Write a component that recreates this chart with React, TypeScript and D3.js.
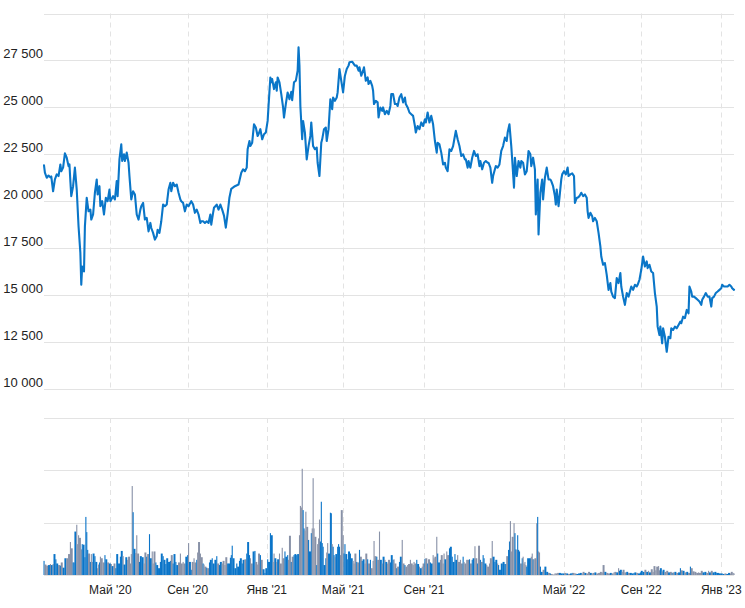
import React from "react";
import * as d3 from "d3";

// trading-session index, closing price
const priceSeries: [number, number][] = [
[0,21900],[1,21510],[3,21240],[5,21360],[7,21260],[8,21310],[10,20520],[12,21150],[14,21420],[16,21330],[18,21950],[19,21590],[21,21780],[23,22540],[25,22310],[27,21860],[28,21950],[29,21060],[30,20260],[32,20790],[34,21780],[36,20610],[38,18650],[40,17230],[41,15530],[42,16510],[44,16240],[45,18650],[47,20170],[49,19450],[51,19540],[52,19010],[54,19280],[56,20440],[58,21150],[59,20350],[61,20790],[62,19720],[64,19990],[66,19280],[68,20170],[70,19990],[72,20610],[73,19990],[76,20260],[78,20080],[80,21060],[81,20260],[83,22220],[85,23020],[86,22130],[88,22490],[89,22130],[91,22580],[93,22040],[94,21330],[96,20080],[98,20520],[100,20350],[102,19280],[104,19010],[106,19540],[107,19720],[109,19900],[111,19010],[113,19100],[115,18380],[117,18830],[118,18560],[120,18300],[122,17940],[124,18120],[125,18470],[127,18300],[129,18920],[131,19810],[133,19720],[135,19810],[137,20610],[139,20970],[140,20520],[142,20970],[144,20790],[146,20880],[148,20440],[150,20080],[151,19990],[153,19900],[155,19450],[157,19810],[159,19720],[161,19900],[162,19990],[164,19810],[166,19370],[168,19540],[170,19280],[172,18830],[173,18920],[175,18920],[177,18830],[179,18920],[181,18830],[183,19280],[184,18740],[186,19370],[187,19640],[190,19810],[192,19540],[194,19810],[196,19540],[198,19220],[200,18580],[202,19330],[204,20190],[206,20650],[210,20790],[214,20880],[217,21510],[219,21690],[221,21590],[223,21780],[224,22760],[226,23200],[227,22930],[229,23110],[231,24090],[233,23920],[235,23470],[236,23560],[238,23830],[240,23290],[242,23560],[244,23650],[246,24270],[247,25070],[249,26590],[250,26330],[251,26500],[253,25970],[255,26330],[256,25880],[257,26590],[259,26330],[261,25700],[263,24990],[264,24450],[266,25170],[268,25790],[270,25430],[272,25820],[273,25380],[275,26330],[277,26410],[279,26950],[280,28200],[281,27220],[282,25070],[284,23290],[285,24270],[287,23650],[289,22220],[291,22930],[293,23470],[294,24190],[296,22930],[298,22760],[300,22850],[301,22040],[303,21330],[305,23110],[306,23290],[308,23830],[310,23920],[311,23200],[313,23830],[315,25430],[317,24900],[318,25520],[320,25340],[322,25520],[323,25790],[325,27040],[327,26410],[329,25790],[331,26680],[333,27040],[335,27220],[336,27400],[339,27430],[342,27220],[344,27220],[346,26950],[347,27130],[349,26680],[351,26950],[352,27130],[354,26410],[356,26590],[357,26240],[359,26410],[361,26140],[362,25880],[363,25170],[365,25340],[367,25260],[368,24450],[370,24990],[372,24810],[373,24990],[375,24630],[377,24810],[379,24630],[381,25070],[382,25700],[384,25700],[386,25170],[388,25170],[389,25070],[391,25520],[393,25700],[395,25260],[397,25520],[398,25170],[400,24990],[402,24720],[404,24630],[406,24540],[408,24000],[409,23650],[411,24000],[413,23830],[415,24190],[417,24000],[419,24360],[420,24190],[422,24720],[424,24190],[426,24540],[428,24090],[430,23200],[432,22580],[433,23110],[435,23020],[437,22580],[439,21950],[441,22040],[442,21780],[444,21590],[446,22760],[448,22670],[450,22930],[451,23200],[453,23740],[455,23290],[457,22930],[459,22400],[461,22490],[463,22220],[464,22220],[466,21780],[467,22130],[469,21780],[471,22310],[473,22670],[475,22400],[477,22490],[479,21860],[480,22130],[482,21690],[484,22040],[486,22130],[488,22040],[489,22040],[491,21780],[493,20970],[494,21330],[496,21690],[497,21860],[499,21780],[501,21950],[503,22670],[505,22930],[507,23380],[509,23200],[510,23650],[512,24090],[514,22930],[515,22220],[517,20710],[518,22310],[520,21330],[522,22130],[524,21780],[525,22130],[527,22040],[529,21420],[531,21590],[533,22670],[535,22490],[536,21860],[538,22310],[540,21690],[541,19280],[543,21150],[544,18210],[546,20440],[548,21150],[549,20080],[551,21240],[553,21780],[555,21150],[557,21150],[558,21060],[560,20790],[562,20260],[563,19810],[564,20610],[566,19720],[567,20170],[569,21150],[570,21420],[572,21590],[574,21420],[576,21780],[577,21330],[579,21420],[581,21470],[583,21330],[584,19900],[586,20170],[587,20170],[589,20260],[591,20440],[593,20260],[595,20350],[597,20170],[598,19450],[599,19100],[601,19370],[603,19190],[604,18920],[606,19100],[608,18920],[610,18300],[612,17580],[613,17040],[615,16600],[617,16690],[619,16060],[621,15260],[623,15620],[624,15170],[626,14900],[628,14820],[630,15890],[632,15620],[634,16160],[635,15440],[637,14900],[639,14460],[641,15090],[643,14900],[645,15260],[646,15440],[648,15260],[650,15530],[652,15440],[653,15530],[655,15800],[657,16330],[659,17040],[661,16510],[663,16780],[664,16420],[666,16600],[668,16240],[670,16160],[672,15090],[674,14370],[675,13300],[677,12850],[678,13300],[680,12410],[681,13210],[683,12760],[685,11960],[687,12760],[689,12680],[690,13210],[692,13120],[694,13300],[696,13210],[698,13390],[700,13570],[701,13480],[703,13830],[705,13750],[707,14190],[709,14010],[710,15440],[712,15170],[713,14900],[715,14900],[717,14820],[719,14730],[721,14640],[723,14460],[724,14730],[726,14900],[728,15090],[730,14900],[732,14900],[734,14370],[735,14820],[737,14900],[739,15090],[741,15170],[743,15260],[745,15350],[746,15530],[748,15440],[750,15440],[752,15440],[754,15530],[756,15440],[757,15350],[759,15260]
];

// trading-session index, traded volume (relative units)
const volumeSeries: [number, number][] = [
[0,27],[1,20],[3,18],[5,19],[7,21],[8,19],[10,21],[11,40],[13,30],[14,22],[16,19],[18,18],[19,24],[21,14],[23,32],[25,32],[27,40],[29,63],[30,51],[32,24],[33,24],[34,83],[36,96],[37,59],[38,76],[39,71],[41,49],[42,59],[43,58],[45,34],[46,111],[47,82],[48,48],[49,41],[51,25],[52,40],[53,25],[54,41],[56,36],[57,25],[59,13],[60,20],[61,24],[62,35],[63,32],[65,24],[67,38],[68,30],[70,24],[72,22],[74,21],[75,17],[77,22],[79,13],[80,40],[82,22],[84,35],[85,46],[87,36],[88,20],[90,34],[92,29],[93,35],[95,22],[96,40],[97,170],[98,120],[99,50],[101,42],[102,76],[103,41],[105,25],[106,36],[108,34],[110,22],[111,43],[113,35],[114,40],[116,78],[117,32],[119,45],[120,22],[121,45],[123,24],[124,19],[126,13],[128,25],[129,41],[131,36],[132,29],[134,21],[135,32],[137,25],[139,27],[140,38],[142,22],[143,40],[145,25],[146,19],[148,24],[150,41],[151,22],[153,25],[154,22],[156,35],[158,38],[159,61],[160,25],[162,10],[163,25],[165,32],[166,24],[168,29],[169,43],[170,63],[172,41],[173,34],[175,22],[176,20],[177,16],[179,14],[180,13],[182,24],[183,29],[185,32],[186,22],[188,29],[190,36],[191,22],[193,19],[194,25],[196,22],[197,27],[199,19],[200,34],[202,22],[203,22],[205,33],[206,38],[207,56],[208,32],[210,13],[212,22],[213,16],[215,27],[216,32],[218,22],[219,29],[221,30],[223,41],[224,63],[226,38],[227,32],[228,22],[230,45],[232,46],[233,25],[235,20],[236,41],[238,38],[239,29],[241,11],[243,4],[244,13],[246,30],[247,25],[249,80],[250,76],[252,25],[253,41],[254,32],[256,25],[257,30],[259,41],[260,22],[262,52],[263,32],[265,45],[266,35],[268,38],[269,29],[270,75],[272,25],[273,35],[275,38],[276,40],[278,38],[279,40],[281,76],[282,132],[283,129],[284,203],[285,124],[286,89],[287,85],[288,121],[289,92],[291,67],[292,45],[293,45],[294,80],[295,89],[296,185],[297,89],[298,73],[300,19],[301,59],[302,70],[303,106],[304,64],[305,140],[306,61],[307,54],[308,19],[310,32],[311,43],[312,61],[313,41],[315,119],[316,118],[317,59],[318,54],[319,38],[320,34],[321,40],[323,54],[324,59],[325,54],[326,38],[327,124],[329,76],[330,41],[331,59],[332,40],[334,30],[335,45],[337,41],[338,32],[340,27],[341,22],[342,41],[344,25],[345,24],[347,48],[348,35],[350,27],[351,30],[353,22],[354,41],[356,30],[357,22],[359,29],[360,13],[362,27],[363,65],[364,36],[366,35],[367,29],[369,83],[370,29],[372,22],[373,35],[375,29],[376,25],[378,22],[379,29],[381,24],[382,38],[384,29],[385,30],[386,22],[388,13],[389,16],[391,25],[392,35],[394,67],[395,22],[397,19],[398,16],[400,19],[401,21],[403,29],[404,22],[406,19],[407,25],[408,22],[410,29],[411,21],[413,16],[414,13],[416,16],[417,22],[419,31],[420,32],[422,22],[423,30],[425,24],[426,22],[428,38],[429,32],[430,35],[432,73],[433,41],[434,24],[436,29],[437,38],[439,22],[440,41],[441,30],[443,45],[444,38],[446,51],[447,54],[449,35],[450,25],[452,40],[453,29],[455,38],[456,25],[458,29],[459,22],[461,35],[462,25],[463,22],[465,29],[466,29],[468,30],[469,22],[471,29],[472,32],[474,55],[475,32],[477,22],[478,56],[480,29],[481,25],[483,38],[484,32],[485,22],[487,19],[488,16],[490,22],[491,32],[493,65],[494,35],[496,25],[497,29],[499,22],[500,19],[501,10],[503,22],[505,25],[507,21],[508,21],[509,36],[511,48],[512,64],[513,103],[514,45],[515,73],[517,99],[518,80],[519,49],[520,48],[521,76],[522,48],[523,45],[524,22],[526,32],[527,35],[528,22],[529,25],[530,19],[531,16],[532,32],[534,32],[536,35],[537,41],[538,30],[539,30],[540,32],[542,99],[543,111],[544,45],[545,43],[546,16],[547,6],[549,10],[551,16],[553,6],[555,4],[557,3],[558,2],[560,1],[562,3],[563,3],[565,4],[567,4],[569,3],[571,3],[573,4],[575,3],[577,2],[579,3],[581,4],[582,4],[584,3],[586,2],[588,3],[590,4],[592,3],[593,6],[595,4],[597,3],[599,6],[601,4],[603,3],[604,4],[606,5],[608,3],[610,4],[612,6],[614,5],[615,19],[617,6],[619,4],[621,3],[623,4],[625,3],[627,5],[628,6],[630,5],[632,13],[633,8],[634,10],[636,6],[637,10],[639,5],[641,6],[643,4],[645,4],[647,3],[649,4],[650,5],[652,4],[654,3],[656,5],[657,8],[659,6],[661,10],[663,6],[665,8],[666,5],[668,11],[670,6],[671,17],[673,9],[674,16],[676,17],[677,9],[678,13],[680,7],[681,10],[683,6],[685,8],[687,5],[689,6],[691,4],[692,5],[694,6],[696,4],[698,5],[700,13],[701,9],[703,8],[705,5],[707,6],[709,4],[711,16],[712,13],[714,7],[716,6],[718,4],[720,5],[721,4],[723,8],[725,5],[727,6],[729,4],[731,8],[732,5],[734,8],[736,5],[738,6],[740,4],[742,4],[743,3],[745,3],[747,2],[749,3],[751,2],[753,4],[755,3],[756,6],[758,4],[759,3]
];

const monthLabels = ["Май '20", "Сен '20", "Янв '21", "Май '21", "Сен '21", "Май '22", "Сен '22", "Янв '23"];
const monthSessions = [73, 158, 245, 329, 418, 572, 657, 745];
const priceTicks = [10000, 12500, 15000, 17500, 20000, 22500, 25000, 27500, 30000];
const volumeTicks = [0, 100, 200, 300];

const ruLocale = d3.formatLocale({ decimal: ",", thousands: " ", grouping: [3], currency: ["", ""] });
const fmt = ruLocale.format(",d");

const W = 745;
const H = 608;
const LINE = "#0a76c8";
const BLUE = "#0a74c8";
const GREY = "#8891a7";
const GRID = "#e3e3e3";

export default function App() {
  const x = d3.scaleLinear().domain([0, 759]).range([44, 734]);
  const y = d3.scaleLinear().domain([10000, 30000]).range([388.5, 13.5]);
  const yv = d3.scaleLinear().domain([0, 300]).range([575, 418]);

  const priceAt = d3
    .scaleLinear()
    .domain(priceSeries.map((d) => d[0]))
    .range(priceSeries.map((d) => d[1]))
    .clamp(true);

  const line = d3
    .line<[number, number]>()
    .x((d) => x(d[0]))
    .y((d) => y(d[1]))
    .curve(d3.curveLinear);

  const crisp = (v: number) => Math.round(v) + 0.5;
  const font = "'Liberation Sans', Arial, sans-serif";

  return (
    <svg
      width={W}
      height={H}
      viewBox={`0 0 ${W} ${H}`}
      style={{ position: "absolute", left: 0, top: 0, background: "#fff" }}
    >
      {priceTicks.map((t) => (
        <line key={"pg" + t} x1={44} x2={734} y1={crisp(y(t))} y2={crisp(y(t))} stroke={GRID} strokeWidth={1} />
      ))}
      {volumeTicks.map((t) => (
        <line key={"vg" + t} x1={44} x2={734} y1={crisp(yv(t))} y2={crisp(yv(t))} stroke={GRID} strokeWidth={1} />
      ))}
      {monthSessions.map((s, i) => (
        <g key={"vx" + i}>
          <line x1={crisp(x(s))} x2={crisp(x(s))} y1={y(30000)} y2={y(10000)} stroke={GRID} strokeDasharray="5,4" />
          <line x1={crisp(x(s))} x2={crisp(x(s))} y1={yv(300)} y2={yv(0)} stroke={GRID} strokeDasharray="5,4" />
        </g>
      ))}
      {priceTicks
        .filter((t) => t < 30000)
        .map((t) => (
          <text key={"pl" + t} x={43} y={y(t) - 2} textAnchor="end" fontSize={13} fontFamily={font} fill="#222">
            {fmt(t)}
          </text>
        ))}
      {volumeSeries.map((d, i) => {
        const next = volumeSeries[i + 1];
        const prev = volumeSeries[i - 1];
        const gap = next ? x(next[0]) - x(d[0]) : prev ? x(d[0]) - x(prev[0]) : 1;
        const w = Math.max(1.1, Math.min(2.2, gap + 0.15));
        const down = priceAt(d[0]) < priceAt(d[0] - 1.5);
        const top = yv(d[1]);
        return (
          <rect
            key={"vb" + i}
            x={x(d[0]) - 0.5}
            y={top}
            width={w}
            height={Math.max(0.6, yv(0) - top)}
            fill={down ? GREY : BLUE}
          />
        );
      })}
      <path d={line(priceSeries) || ""} fill="none" stroke={LINE} strokeWidth={2.1} strokeLinejoin="round" strokeLinecap="round" />
      {monthSessions.map((s, i) => (
        <text key={"xl" + i} x={x(s)} y={594} textAnchor="middle" fontSize={12} fontFamily={font} fill="#222">
          {monthLabels[i]}
        </text>
      ))}
    </svg>
  );
}
